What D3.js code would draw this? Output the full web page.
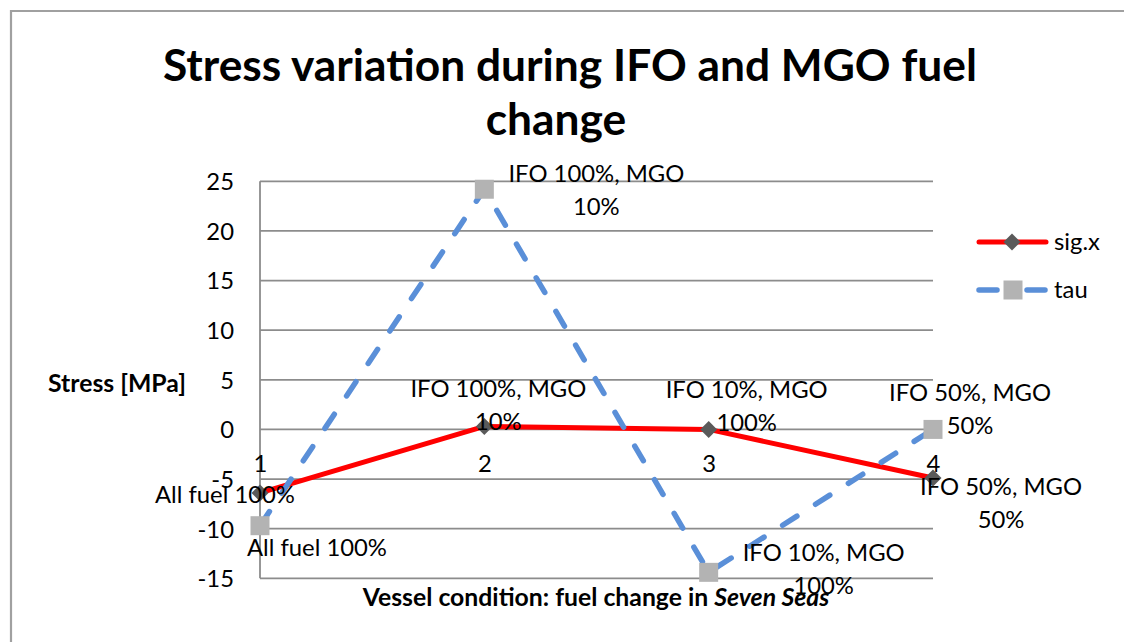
<!DOCTYPE html>
<html><head><meta charset="utf-8">
<script src="https://cdn.jsdelivr.net/npm/d3@7"></script>
<style>body{margin:0;background:#fff;overflow:hidden} svg{display:block}</style>
</head><body><svg id="c" width="1124" height="642"></svg>
<script>
// ---- data ----
const categories = [1, 2, 3, 4];
const pointLabels = ["All fuel 100%", "IFO 100%, MGO 10%", "IFO 10%, MGO 100%", "IFO 50%, MGO 50%"];
const sigX = [-6.4, 0.3, 0.0, -4.9];
const tau = [-9.7, 24.2, -14.4, 0.0];
const yTicks = [-15, -10, -5, 0, 5, 10, 15, 20, 25];
const seriesNames = ["sig.x", "tau"];
const titleLines = ["Stress variation during IFO and MGO fuel", "change"];
const yTitle = "Stress [MPa]";
const xTitleParts = [["Vessel condition: fuel change in ", "normal"], ["Seven Seas", "italic"]];

// ---- layout (not data) ----
const sigLabelOffsets = [[-35, 2], [14, -37], [38, -39], [68, 9]];
const tauLabelOffsets = [[57, 22], [112, -15], [115, -19], [37, -36]];

const svg = d3.select("#c");
const FONT = "Lato, 'Open Sans', sans-serif";

function calib(text, weight, target) {
  const t = svg.append("text").attr("font-family", FONT).attr("font-weight", weight)
    .attr("font-size", 100).text(text);
  const w = t.node().getComputedTextLength();
  t.remove();
  return 100 * target / w;
}
const labelSize = calib("All fuel 100%", "normal", 140);
const boldSize = calib("Stress [MPa]", "bold", 138);
const titleSize = calib(titleLines[0], "bold", 814);

svg.append("rect").attr("width", 1124).attr("height", 642).attr("fill", "#fff");
// frame
svg.append("path").attr("d", "M11,650 V11 H1130").attr("fill", "none")
  .attr("stroke", "#a0a0a0").attr("stroke-width", 2.2);

const x = d3.scalePoint().domain(categories).range([260, 933]);
const y = d3.scaleLinear().domain([-15, 25]).range([578.3, 181.3]);

// gridlines
const grid = svg.append("g");
grid.selectAll("line").data(yTicks).join("line")
  .attr("x1", 260).attr("x2", 933)
  .attr("y1", d => y(d)).attr("y2", d => y(d))
  .attr("stroke", "#8c8c8c").attr("stroke-width", 1.8);
// vertical axis line
svg.append("line").attr("x1", 260).attr("x2", 260).attr("y1", y(25)).attr("y2", y(-15))
  .attr("stroke", "#8c8c8c").attr("stroke-width", 1.8);

// y tick labels
const yAxis = d3.axisLeft(y).tickValues(yTicks).tickSize(0).tickPadding(26)
  .tickFormat(d => String(d));
const ya = svg.append("g").attr("transform", "translate(260,0)").call(yAxis);
ya.select(".domain").remove();
ya.selectAll("text").attr("font-family", FONT).attr("font-size", labelSize)
  .attr("fill", "#000").attr("dy", null)
  .attr("y", 0.35 * labelSize);

// x category labels (at y=0 axis, below)
const xAxis = d3.axisBottom(x).tickSize(0).tickPadding(0);
const xa = svg.append("g").attr("transform", `translate(0,${y(0)})`).call(xAxis);
xa.select(".domain").remove();
xa.selectAll("text").attr("font-family", FONT).attr("font-size", labelSize)
  .attr("fill", "#000").attr("dy", null).attr("y", 43);

// lines
const sigPts = categories.map((c, i) => [x(c), y(sigX[i])]);
const tauPts = categories.map((c, i) => [x(c), y(tau[i])]);
const line = d3.line();
const RED = "#ff0000", BLUE = "#5a8fd8", DIA = "#5a5a5a", SQ = "#b3b3b3";

svg.append("path").attr("d", line(sigPts)).attr("fill", "none").attr("stroke", RED)
  .attr("stroke-width", 5).attr("stroke-linejoin", "round");
const diamond = d3.symbol(d3.symbolSquare, 144);
svg.append("g").selectAll("path").data(sigPts).join("path")
  .attr("d", diamond).attr("fill", DIA)
  .attr("transform", d => `translate(${d[0]},${d[1]}) rotate(45)`);

svg.append("path").attr("d", line(tauPts)).attr("fill", "none").attr("stroke", BLUE)
  .attr("stroke-width", 5.5).attr("stroke-linecap", "round").attr("stroke-dasharray", "17,22");
const square = d3.symbol(d3.symbolSquare, 361);
svg.append("g").selectAll("path").data(tauPts).join("path")
  .attr("d", square).attr("fill", SQ)
  .attr("transform", d => `translate(${d[0]},${d[1]})`);

// data labels
function wrap(s) {
  if (s.length <= 14) return [s];
  const k = s.lastIndexOf(" ");
  return [s.slice(0, k), s.slice(k + 1)];
}
function drawLabels(pts, offs) {
  const g = svg.append("g").attr("font-family", FONT).attr("font-size", labelSize)
    .attr("text-anchor", "middle").attr("fill", "#000");
  pts.forEach((p, i) => {
    const lines = wrap(pointLabels[i]);
    lines.forEach((ln, j) => {
      g.append("text").attr("x", p[0] + offs[i][0])
        .attr("y", p[1] + offs[i][1] + j * 33 + 0.33 * labelSize).text(ln);
    });
  });
}
drawLabels(sigPts, sigLabelOffsets);
drawLabels(tauPts, tauLabelOffsets);

// title
svg.append("g").attr("font-family", FONT).attr("font-weight", "bold").attr("font-size", titleSize)
  .attr("text-anchor", "middle").selectAll("text").data(titleLines).join("text")
  .attr("x", (d, i) => i === 0 ? 570 : 556).attr("y", (d, i) => 81 + i * 54).text(d => d);

// axis titles
svg.append("text").attr("font-family", FONT).attr("font-weight", "bold").attr("font-size", boldSize)
  .attr("text-anchor", "middle").attr("x", 117).attr("y", 392).text(yTitle);
const xt = svg.append("text").attr("font-family", FONT).attr("font-weight", "bold").attr("font-size", boldSize)
  .attr("text-anchor", "middle").attr("x", 596).attr("y", 606);
xTitleParts.forEach(p => xt.append("tspan").attr("font-style", p[1]).text(p[0]));

// legend
const lg = svg.append("g");
lg.append("line").attr("x1", 979).attr("x2", 1046).attr("y1", 242).attr("y2", 242)
  .attr("stroke", RED).attr("stroke-width", 5).attr("stroke-linecap", "round");
lg.append("path").attr("d", diamond).attr("fill", DIA).attr("transform", "translate(1012,242) rotate(45)");
lg.append("line").attr("x1", 979).attr("x2", 1046).attr("y1", 290).attr("y2", 290)
  .attr("stroke", BLUE).attr("stroke-width", 5.5).attr("stroke-linecap", "round").attr("stroke-dasharray", "18,30");
lg.append("path").attr("d", square).attr("fill", SQ).attr("transform", "translate(1013,290)");
lg.selectAll("text.lt").data(seriesNames).join("text").attr("class", "lt")
  .attr("font-family", FONT).attr("font-size", labelSize)
  .attr("x", 1054).attr("y", (d, i) => 242 + i * 48 + 0.33 * labelSize).text(d => d);
</script></body></html>
